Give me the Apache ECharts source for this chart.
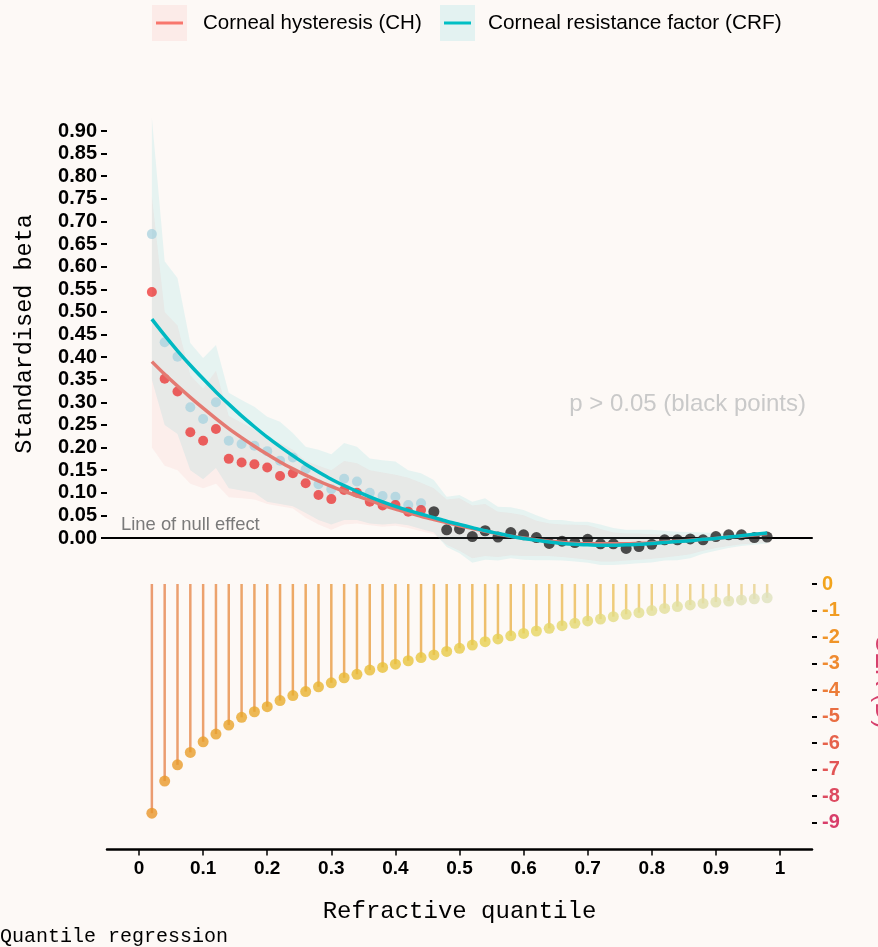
<!DOCTYPE html>
<html>
<head>
<meta charset="utf-8">
<script src="https://cdn.jsdelivr.net/npm/echarts@6/dist/echarts.min.js"></script>
<style>html,body{margin:0;padding:0;background:#fdf9f6;}#c{width:878px;height:947px;}</style>
</head>
<body>
<div id="c"></div>
<script>
const quantiles = [0.02,0.04,0.06,0.08,0.10,0.12,0.14,0.16,0.18,0.20,0.22,0.24,0.26,0.28,0.30,0.32,0.34,0.36,0.38,0.40,0.42,0.44,0.46,0.48,0.50,0.52,0.54,0.56,0.58,0.60,0.62,0.64,0.66,0.68,0.70,0.72,0.74,0.76,0.78,0.80,0.82,0.84,0.86,0.88,0.90,0.92,0.94,0.96,0.98];
// significant points (q 0.02 - 0.44)
const sigQuantiles = [0.02,0.04,0.06,0.08,0.10,0.12,0.14,0.16,0.18,0.20,0.22,0.24,0.26,0.28,0.30,0.32,0.34,0.36,0.38,0.40,0.42,0.44];
const chPoints  = [0.544,0.352,0.324,0.234,0.215,0.241,0.175,0.167,0.163,0.156,0.137,0.143,0.121,0.095,0.086,0.106,0.100,0.080,0.072,0.073,0.058,0.062];
const crfPoints = [0.672,0.433,0.401,0.289,0.263,0.300,0.215,0.208,0.204,0.192,0.171,0.178,0.152,0.119,0.108,0.131,0.125,0.100,0.093,0.091,0.073,0.077];
// non-significant points (q 0.46 - 0.98)
const nsQuantiles = [0.46,0.48,0.50,0.52,0.54,0.56,0.58,0.60,0.62,0.64,0.66,0.68,0.70,0.72,0.74,0.76,0.78,0.80,0.82,0.84,0.86,0.88,0.90,0.92,0.94,0.96,0.98];
const nsPoints = [0.058,0.018,0.020,0.003,0.016,0.002,0.012,0.007,0.001,-0.012,-0.007,-0.010,-0.003,-0.013,-0.013,-0.023,-0.019,-0.014,-0.004,-0.004,-0.002,-0.004,0.003,0.007,0.007,0.001,0.002];
// smoothed fits
const crfFit = [0.484,0.448,0.414,0.382,0.352,0.323,0.296,0.270,0.246,0.223,0.202,0.182,0.163,0.146,0.130,0.116,0.103,0.091,0.080,0.070,0.061,0.053,0.045,0.037,0.030,0.023,0.016,0.010,0.004,-0.001,-0.005,-0.009,-0.012,-0.014,-0.015,-0.016,-0.016,-0.015,-0.014,-0.012,-0.010,-0.008,-0.006,-0.003,-0.001,0.002,0.005,0.008,0.011];
const chFit  = [0.390,0.362,0.336,0.311,0.287,0.264,0.242,0.222,0.203,0.185,0.168,0.153,0.139,0.126,0.114,0.103,0.093,0.083,0.073,0.064,0.056,0.048,0.041,0.034,0.027,0.021,0.015,0.009,0.004,0.000,-0.004,-0.007,-0.010,-0.012,-0.013,-0.013,-0.013,-0.013,-0.012,-0.011,-0.009,-0.007,-0.005,-0.003,-0.001,0.002,0.004,0.007,0.010];
// confidence bands
const crfHi = [0.93,0.612,0.575,0.431,0.398,0.427,0.321,0.305,0.290,0.268,0.257,0.232,0.202,0.195,0.185,0.210,0.202,0.176,0.172,0.169,0.150,0.143,0.128,0.091,0.095,0.080,0.088,0.069,0.068,0.062,0.050,0.040,0.040,0.036,0.036,0.030,0.022,0.018,0.018,0.018,0.016,0.014,0.013,0.012,0.011,0.010,0.010,0.010,0.012];
const crfLo = [0.35,0.25,0.23,0.15,0.13,0.155,0.11,0.105,0.10,0.08,0.075,0.07,0.055,0.04,0.03,0.04,0.04,0.032,0.03,0.032,0.028,0.02,0.012,-0.02,-0.034,-0.055,-0.048,-0.05,-0.045,-0.048,-0.049,-0.049,-0.05,-0.052,-0.055,-0.06,-0.06,-0.058,-0.056,-0.054,-0.05,-0.049,-0.045,-0.035,-0.028,-0.022,-0.018,-0.015,-0.012];
const chHi = [0.755,0.50,0.47,0.36,0.33,0.37,0.27,0.255,0.24,0.22,0.21,0.195,0.17,0.16,0.15,0.17,0.165,0.15,0.145,0.14,0.133,0.122,0.11,0.085,0.088,0.072,0.075,0.058,0.055,0.05,0.038,0.032,0.03,0.029,0.028,0.02,0.012,0.01,0.01,0.008,0.007,0.007,0.006,0.005,0.004,0.004,0.003,0.003,0.005];
const chLo = [0.20,0.16,0.15,0.12,0.11,0.12,0.09,0.088,0.085,0.075,0.07,0.065,0.045,0.03,0.018,0.03,0.032,0.028,0.025,0.027,0.022,0.015,0.008,-0.015,-0.028,-0.045,-0.04,-0.042,-0.038,-0.04,-0.04,-0.04,-0.042,-0.045,-0.048,-0.052,-0.052,-0.05,-0.048,-0.046,-0.043,-0.04,-0.036,-0.028,-0.022,-0.018,-0.014,-0.012,-0.01];
// lollipop (SER, D)
const serValues = [-8.63,-7.42,-6.81,-6.34,-5.94,-5.65,-5.31,-5.02,-4.81,-4.62,-4.39,-4.20,-4.05,-3.87,-3.72,-3.53,-3.40,-3.24,-3.14,-3.02,-2.89,-2.77,-2.67,-2.54,-2.42,-2.30,-2.17,-2.07,-1.95,-1.86,-1.77,-1.67,-1.57,-1.48,-1.39,-1.32,-1.23,-1.14,-1.08,-1.00,-0.92,-0.85,-0.79,-0.73,-0.68,-0.64,-0.60,-0.56,-0.52];
// ticks
const xTicks = [0,0.1,0.2,0.3,0.4,0.5,0.6,0.7,0.8,0.9,1];
const xTickLabels = ['0','0.1','0.2','0.3','0.4','0.5','0.6','0.7','0.8','0.9','1'];
const serTickColors = ['#f2a41c','#f19c22','#f09428','#ef8a30','#ec7c38','#e96e42','#e6624b','#e25555','#dd4a60','#d83e6a'];

const chart = echarts.init(document.getElementById('c'));
const BG = '#fdf9f6';

function band(lo, hi, fill){
  return {
    type:'custom', xAxisIndex:0, yAxisIndex:0, silent:true, z:1,
    data: quantiles.map((q,i)=>[q, lo[i], hi[i]]),
    encode:{x:0, y:[1,2]},
    renderItem: function(params, api){
      if (params.dataIndex !== 0) return null;
      const pts = [];
      for (let i=0;i<quantiles.length;i++) pts.push(api.coord([quantiles[i], hi[i]]));
      for (let i=quantiles.length-1;i>=0;i--) pts.push(api.coord([quantiles[i], lo[i]]));
      return {type:'polygon', shape:{points:pts}, style:{fill:fill}};
    }
  };
}
const hiddenY = {axisLine:{show:false}, axisTick:{show:false}, axisLabel:{show:false}, splitLine:{show:false}};
const hiddenX = {show:false, min:0, max:1};

const option = {
  backgroundColor: BG,
  animation: false,
  grid: [
    {left:107, right:66, top:108.4, height:474.8},
    {left:107, right:66, top:584, height:265.6},
    {left:107, right:66, top:131, height:407},
    {left:812, right:10, top:584, height:238.5}
  ],
  xAxis: [
    {gridIndex:0, type:'value', min:-0.05, max:1.05,
     axisLine:{show:true, onZero:true, lineStyle:{color:'#000', width:2}},
     axisTick:{show:false}, axisLabel:{show:false}, splitLine:{show:false}},
    {gridIndex:1, type:'value', min:-0.05, max:1.05,
     axisLine:{show:true, onZero:false, lineStyle:{color:'#000', width:2.5}},
     axisTick:{show:true, customValues:xTicks, length:6, inside:false, lineStyle:{color:'#000', width:1.5}},
     axisLabel:{customValues:xTicks, margin:10, formatter:v=>xTickLabels[Math.round(v*10)],
       fontFamily:'Liberation Sans', fontWeight:'bold', fontSize:19, color:'#000'},
     splitLine:{show:false},
     name:'Refractive quantile', nameLocation:'middle', nameGap:50,
     nameTextStyle:{fontFamily:'Liberation Mono', fontSize:24, color:'#000'}},
    Object.assign({gridIndex:2, type:'value'}, hiddenX),
    Object.assign({gridIndex:3, type:'value'}, hiddenX)
  ],
  yAxis: [
    Object.assign({gridIndex:0, type:'value', min:-0.1, max:0.95}, hiddenY),
    Object.assign({gridIndex:1, type:'value', min:-10, max:0}, hiddenY),
    {gridIndex:2, type:'value', min:0, max:0.9, interval:0.05,
     axisLine:{show:false}, splitLine:{show:false},
     axisTick:{show:true, length:6, inside:false, lineStyle:{color:'#000', width:2}},
     axisLabel:{margin:10, formatter:v=>v.toFixed(2),
       fontFamily:'Liberation Sans', fontWeight:'bold', fontSize:20, color:'#000'}},
    {gridIndex:3, type:'value', position:'left', min:-9, max:0, interval:1,
     axisLine:{show:false}, splitLine:{show:false},
     axisTick:{show:true, length:5, inside:true, lineStyle:{color:'#000', width:2}},
     axisLabel:{inside:true, margin:10, fontFamily:'Liberation Sans', fontWeight:'bold', fontSize:20,
       formatter:v=>String(Math.round(v)),
       color:function(v){ return serTickColors[Math.round(-Number(v))] || '#000'; }}}
  ],
  visualMap: [
    {show:false, type:'continuous', seriesIndex:7, dimension:0, min:0, max:1,
     inRange:{color:['#eb9b72','#edaa66','#eebc68','#efcd7c','#ecdcaa']}},
    {show:false, type:'continuous', seriesIndex:8, dimension:0, min:0, max:1,
     inRange:{color:['#e8942a','#e9aa2c','#e8c23a','#e6d45a','#e2df96','#dfe2c2']}}
  ],
  series: [
    band(crfLo, crfHi, 'rgba(0,191,196,0.09)'),
    band(chLo, chHi, 'rgba(248,118,109,0.08)'),
    {type:'scatter', xAxisIndex:0, yAxisIndex:0, z:3, symbolSize:10,
     data: sigQuantiles.map((q,i)=>[q, crfPoints[i]]),
     itemStyle:{color:'rgba(162,208,222,0.88)'}},
    {type:'scatter', xAxisIndex:0, yAxisIndex:0, z:3, symbolSize:10,
     data: sigQuantiles.map((q,i)=>[q, chPoints[i]]),
     itemStyle:{color:'rgba(236,28,28,0.85)'}},
    {type:'scatter', xAxisIndex:0, yAxisIndex:0, z:3, symbolSize:11,
     data: nsQuantiles.map((q,i)=>[q, nsPoints[i]]),
     itemStyle:{color:'rgba(18,18,18,0.92)'}},
    {type:'line', xAxisIndex:0, yAxisIndex:0, z:4, smooth:0.3, showSymbol:false,
     data: quantiles.map((q,i)=>[q, chFit[i]]),
     lineStyle:{color:'#e47a72', width:3.5}},
    {type:'line', xAxisIndex:0, yAxisIndex:0, z:5, smooth:0.3, showSymbol:false,
     data: quantiles.map((q,i)=>[q, crfFit[i]]),
     lineStyle:{color:'#00b9c2', width:3.5}},
    {type:'bar', xAxisIndex:1, yAxisIndex:1, barWidth:2.5, z:2,
     data: quantiles.map((q,i)=>[q, serValues[i]])},
    {type:'scatter', xAxisIndex:1, yAxisIndex:1, symbolSize:11, z:3,
     data: quantiles.map((q,i)=>[q, serValues[i]])}
  ],
  graphic: [
    {type:'rect', left:152, top:5, shape:{width:35, height:36}, style:{fill:'rgba(248,118,109,0.1)'}},
    {type:'line', shape:{x1:156, y1:23, x2:183, y2:23}, style:{stroke:'#f8766d', lineWidth:3}},
    {type:'text', x:203, y:23, style:{text:'Corneal hysteresis (CH)', font:'20.5px "Liberation Sans"', fill:'#000', align:'left', verticalAlign:'middle'}},
    {type:'rect', left:440, top:5, shape:{width:35, height:36}, style:{fill:'rgba(0,191,196,0.1)'}},
    {type:'line', shape:{x1:444, y1:23, x2:471, y2:23}, style:{stroke:'#00bfc4', lineWidth:3}},
    {type:'text', x:488, y:23, style:{text:'Corneal resistance factor (CRF)', font:'20.8px "Liberation Sans"', fill:'#000', align:'left', verticalAlign:'middle'}},
    {type:'text', x:25, y:334, rotation:Math.PI/2,
     style:{text:'Standardised beta', font:'23.5px "Liberation Mono"', fill:'#000', align:'center', verticalAlign:'middle'}},
    {type:'text', x:121, y:525,
     style:{text:'Line of null effect', font:'18.4px "Liberation Sans"', fill:'#7a7a7a', align:'left', verticalAlign:'middle'}},
    {type:'text', x:806, y:404,
     style:{text:'p > 0.05 (black points)', font:'24px "Liberation Sans"', fill:'#c9c9c9', align:'right', verticalAlign:'middle'}},
    {type:'text', x:882.5, y:682, rotation:-Math.PI/2,
     style:{text:'SER (D)', font:'25px "Liberation Sans"', fill:'#d6406c', align:'center', verticalAlign:'middle'}},
    {type:'text', x:0, y:937,
     style:{text:'Quantile regression', font:'20px "Liberation Mono"', fill:'#000', align:'left', verticalAlign:'middle'}}
  ]
};
chart.setOption(option);
</script>
</body>
</html>
